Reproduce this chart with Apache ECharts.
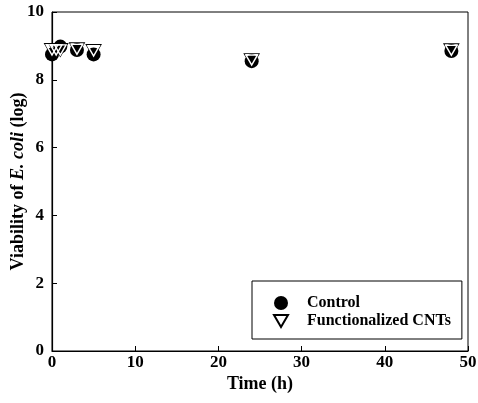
<!DOCTYPE html>
<html>
<head>
<meta charset="utf-8">
<script src="https://cdn.jsdelivr.net/npm/echarts@6/dist/echarts.min.js"></script>
<style>
  html, body { margin: 0; padding: 0; background: #fff; }
  #chart { width: 478px; height: 403px; }
</style>
</head>
<body>
<div id="chart"></div>
<script>
// values
const controlTime = [0, 1, 3, 5, 24, 48];
const controlVal = [8.75, 8.98, 8.88, 8.75, 8.55, 8.85];
const cntTime = [0, 0.5, 1, 3, 5, 24, 48];
const cntVal = [8.88, 8.88, 8.88, 8.9, 8.85, 8.58, 8.87];
const xTicks = [0, 10, 20, 30, 40, 50];
const yTicks = [0, 2, 4, 6, 8, 10];

const font = '"Liberation Serif", "Times New Roman", serif';
const triPath = 'path://M0,0L20,0L10,17Z';

const pairs = (xs, ys) => xs.map((x, i) => [x, ys[i]]);

const chart = echarts.init(document.getElementById('chart'));
chart.setOption({
  animation: false,
  backgroundColor: '#fff',
  grid: {
    left: 52, right: 10, top: 12, bottom: 52,
    outerBoundsMode: 'none',
    containLabel: false,
    show: true, borderColor: '#000', borderWidth: 1
  },
  legend: {
    data: ['Control', 'Functionalized CNTs'],
    orient: 'vertical',
    left: 252, top: 281,
    padding: [14, 11, 10, 21],
    itemGap: 2,
    itemWidth: 14, itemHeight: 14,
    backgroundColor: '#fff',
    borderColor: '#000', borderWidth: 1,
    textStyle: {
      fontFamily: font, fontWeight: 'bold', fontSize: 16, color: '#000',
      lineHeight: 15, padding: [0, 0, 0, 14]
    }
  },
  xAxis: {
    type: 'value',
    min: xTicks[0], max: xTicks[xTicks.length - 1], interval: 10,
    name: 'Time (h)',
    nameLocation: 'middle', nameGap: 24,
    nameMoveOverlap: false,
    nameTextStyle: { fontFamily: font, fontWeight: 'bold', fontSize: 18, color: '#000' },
    axisLine: { lineStyle: { color: '#000', width: 1.2 } },
    axisTick: { inside: true, length: 5, lineStyle: { color: '#000' } },
    axisLabel: { fontFamily: font, fontWeight: 'bold', fontSize: 17, color: '#000', margin: 3 },
    splitLine: { show: false }
  },
  yAxis: {
    type: 'value',
    min: yTicks[0], max: yTicks[yTicks.length - 1], interval: 2,
    name: '{n|Viability of }{i|E. coli}{n| (log)}',
    nameLocation: 'middle', nameGap: 25,
    nameMoveOverlap: false,
    nameTextStyle: {
      fontFamily: font, fontWeight: 'bold', fontSize: 18, color: '#000',
      rich: {
        n: { fontFamily: font, fontWeight: 'bold', fontSize: 18, color: '#000' },
        i: { fontFamily: font, fontWeight: 'bold', fontStyle: 'italic', fontSize: 18, color: '#000' }
      }
    },
    axisLine: { lineStyle: { color: '#000', width: 1.2 } },
    axisTick: { inside: true, length: 5, lineStyle: { color: '#000' } },
    axisLabel: { fontFamily: font, fontWeight: 'bold', fontSize: 17, color: '#000', margin: 8 },
    splitLine: { show: false }
  },
  series: [
    {
      name: 'Functionalized CNTs',
      type: 'scatter',
      data: pairs(cntTime, cntVal),
      symbol: triPath,
      symbolSize: [15, 13],
      itemStyle: { color: '#fff', borderColor: '#000', borderWidth: 1, opacity: 1 },
      z: 2
    },
    {
      name: 'Control',
      type: 'scatter',
      data: pairs(controlTime, controlVal),
      symbol: 'circle',
      symbolSize: 14,
      itemStyle: { color: '#000', opacity: 1 },
      z: 3
    },
    {
      // white inner outline of the triangles where they sit on the circles
      name: 'cnt-overlay',
      type: 'scatter',
      data: pairs(cntTime, cntVal),
      symbol: triPath,
      symbolSize: [11.5, 10],
      itemStyle: { color: 'rgba(0,0,0,0)', borderColor: '#fff', borderWidth: 1.4, opacity: 1 },
      silent: true,
      z: 4
    }
  ]
});
</script>
</body>
</html>
